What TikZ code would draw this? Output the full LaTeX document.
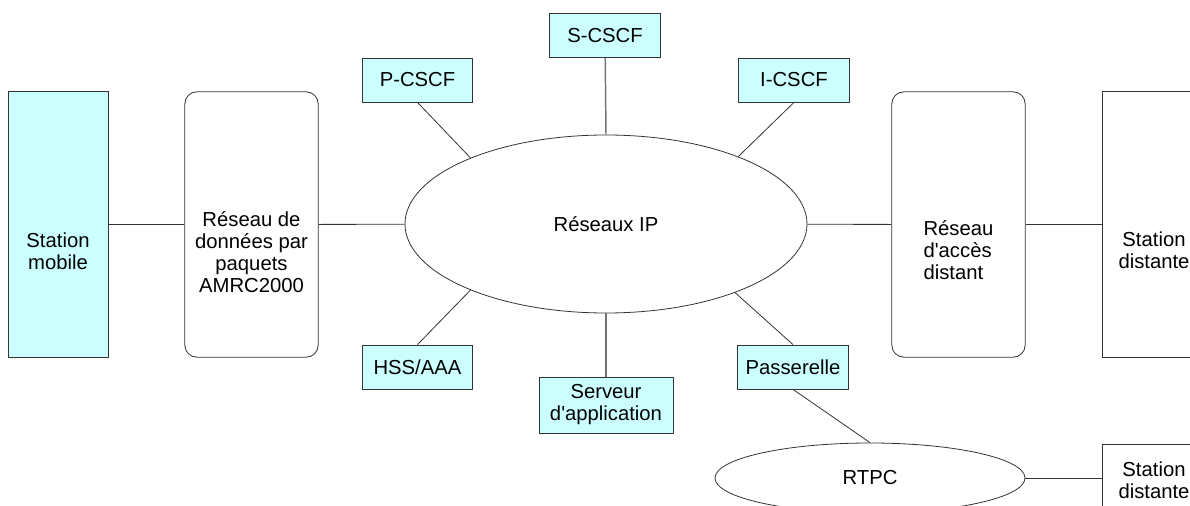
\documentclass[tikz,border=0pt]{standalone}
\usepackage{fontspec}
\setmainfont{Liberation Sans}
\usetikzlibrary{shapes.geometric}
\definecolor{boxcyan}{HTML}{CCFFFF}

\begin{document}
\begin{tikzpicture}[
  x=0.75pt, y=-0.75pt,
  font=\fontsize{15.2pt}{16.5pt}\selectfont,
  every node/.style={align=center},
  unit/.style={draw=black!80,line width=0.6pt,fill=boxcyan,inner sep=0pt,
    minimum width=83pt,minimum height=33pt},
  column/.style={draw=black!80,line width=0.6pt,inner sep=0pt,
    minimum width=100pt,minimum height=199pt},
  net/.style={column,rounded corners=9pt},
  cloud/.style={draw=black!80,line width=0.6pt,shape=ellipse,inner sep=0pt},
  link/.style={draw=black!80,line width=0.6pt},
  trunk/.style={draw=black!55,line width=1.1pt}]

  % Fix the frame of the picture
  \useasboundingbox (0,0) rectangle (1190,506);
  \clip (0,0) rectangle (1190,506);

  % Left and right columns
  \node[column,fill=boxcyan,minimum width=75pt] (mobile) at (58,224.5) {};
  \node[label={[name=mobiletext,yshift=-20pt]center:Station\\mobile}] at (mobile.center) {};
  \node[net] (packet) at (251.5,224.5) {};
  \node[label={[name=packettext,yshift=-21pt]center:Réseau de\\données par\\paquets\\AMRC2000}] at (packet.center) {};
  \node[net] (access) at (958.5,224.5) {};
  \node[label={[name=accesstext,align=left,yshift=-19pt]center:Réseau\\d\textquotesingle accès\\distant}] at (access.center) {};
  \node[column,minimum width=78pt] (remote) at (1154,224.5) {};
  \node[label={[name=remotetext,yshift=-19pt]center:Station\\distante}] at (remote.center) {};

  % IP core and its servers
  \node[cloud,minimum width=301.5pt,minimum height=133.5pt] (ip) at (606,224) {Réseaux IP};
  \node[unit] (scscf) at (605,35.5) {S-CSCF};
  \node[unit] (pcscf) at (417.5,80) {P-CSCF};
  \node[unit] (icscf) at (794,80) {I-CSCF};
  \node[unit] (hss) at (417.5,367) {HSS/AAA};
  \node[unit,minimum width=100.5pt,minimum height=42pt] (appserver) at (606,405) {Serveur\\d\textquotesingle application};
  \node[unit] (gateway) at (793,367) {Passerelle};

  % Switched telephone side
  \node[cloud,minimum width=232.5pt,minimum height=52.5pt] (rtpc) at (870,478) {RTPC};
  \node[draw=black!80,line width=0.6pt,inner sep=0pt,minimum width=78pt,
    minimum height=54pt] (remotepstn) at (1154,480) {Station\\distante};

  % Connections
  \draw[link] (mobile) -- (packet);
  \draw[link] (packet) -- (ip);
  \draw[link] (ip) -- (access);
  \draw[link] (access) -- (remote);
  \draw[trunk] (scscf) -- (ip.north);
  \draw[trunk] (appserver) -- (ip.south);
  \draw[link] (pcscf.south) -- (ip.154);
  \draw[link] (icscf.south) -- (ip.27);
  \draw[link] (hss.north) -- (ip.206);
  \draw[link] (gateway.north) -- (ip.332);
  \draw[link] (gateway.south) -- (rtpc.north);
  \draw[link] (rtpc.east) -- (remotepstn.west |- rtpc.east);

\end{tikzpicture}
\end{document}
